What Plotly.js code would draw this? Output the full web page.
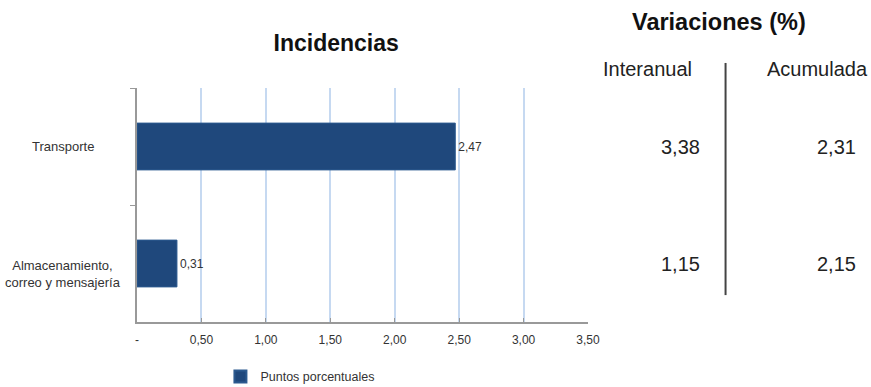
<!DOCTYPE html>
<html><head><meta charset="utf-8">
<script src="https://cdn.plot.ly/plotly-3.0.1.min.js"></script>
<style>html,body{margin:0;padding:0;background:#fff}#c{width:871px;height:387px}</style>
</head><body><div id="c"></div>
<script>
const categories = ['Transporte', 'Almacenamiento,<br>correo y mensajería'];
const incidencias = [2.47, 0.31];
const interanual = [3.38, 1.15];
const acumulada = [2.31, 2.15];
const tickValues = [0, 0.5, 1, 1.5, 2, 2.5, 3, 3.5];
const tickLabels = ['-', '0,50', '1,00', '1,50', '2,00', '2,50', '3,00', '3,50'];
const seriesName = 'Puntos porcentuales';

const FONT = '"Liberation Sans", Arial, sans-serif';
const fmt = v => v.toFixed(2).replace('.', ',');

const annotations = [
  {text:'<b>Variaciones (%)</b>', xref:'paper', yref:'paper', x:1.291, y:1.282, xanchor:'center', yanchor:'middle', showarrow:false, font:{size:23.5, color:'#111'}},
  {text:'Interanual', xref:'paper', yref:'paper', x:1.133, y:1.08, xanchor:'center', yanchor:'middle', showarrow:false, font:{size:20, color:'#222'}},
  {text:'Acumulada', xref:'paper', yref:'paper', x:1.508, y:1.08, xanchor:'center', yanchor:'middle', showarrow:false, font:{size:20, color:'#222'}}
];
categories.forEach((c, i) => {
  // category label, centred block to the left of the axis
  annotations.push({text: c, xref:'paper', yref:'y', x:-0.163, y:c, xanchor:'center', yanchor:'middle', align:'center',
    yshift: c.includes('<br>') ? -10 : 0, showarrow:false, font:{size:13, color:'#333'}});
  annotations.push({text: fmt(interanual[i]), xref:'paper', yref:'y', x:1.252, y:c, xanchor:'right', yanchor:'middle', showarrow:false, font:{size:20, color:'#222'}});
  annotations.push({text: fmt(acumulada[i]), xref:'paper', yref:'y', x:1.598, y:c, xanchor:'right', yanchor:'middle', showarrow:false, font:{size:20, color:'#222'}});
});

Plotly.newPlot('c', [{
  type:'bar', orientation:'h', name: seriesName,
  y: categories, x: incidencias,
  marker:{color:'#1f487c', line:{color:'#2c5a8f', width:1}},
  text: incidencias.map(fmt), textposition:'outside', cliponaxis:false,
  textfont:{size:12, color:'#333'}, showlegend:true
}], {
  width:871, height:387,
  margin:{l:137, r:283, t:88, b:65, autoexpand:false},
  paper_bgcolor:'#fff', plot_bgcolor:'#fff',
  font:{family:FONT, color:'#333'},
  title:{text:'<b>Incidencias</b>', x:0.386, xanchor:'center', y:0.889, yanchor:'middle', font:{size:23, color:'#111'}},
  bargap:0.6,
  xaxis:{range:[0, 3.5], tickvals:tickValues, ticktext:tickLabels, showgrid:true, gridcolor:'#c6d9f1', gridwidth:2,
    showline:true, linecolor:'#999', linewidth:2, ticks:'inside', ticklen:4, tickcolor:'#999', zeroline:false,
    tickfont:{size:12, color:'#333'}, ticklabelstandoff:6},
  yaxis:{autorange:'reversed', showline:true, linecolor:'#999', linewidth:2, ticks:'outside', tickson:'boundaries',
    ticklen:5, tickcolor:'#999', showticklabels:false, showgrid:false},
  showlegend:true,
  legend:{orientation:'h', x:0.185, y:-0.235, xanchor:'left', yanchor:'middle', font:{size:12.5, color:'#333'},
    tracegroupgap:0, itemsizing:'constant'},
  shapes:[{type:'line', xref:'paper', yref:'paper', x0:1.305, x1:1.305, y0:0.115, y1:1.107, line:{color:'#444', width:2}}],
  annotations: annotations
}, {displayModeBar:false, staticPlot:true});
</script></body></html>
